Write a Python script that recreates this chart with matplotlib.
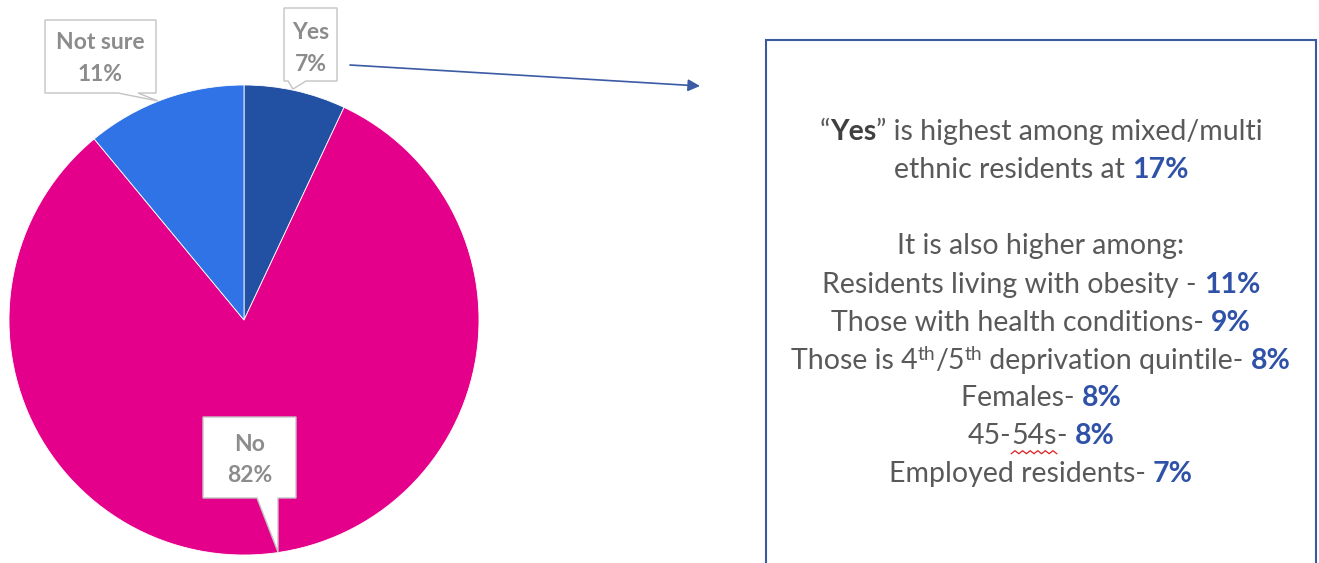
import re
import matplotlib
matplotlib.use("Agg")
import matplotlib.pyplot as plt
from matplotlib.patches import Polygon, Rectangle

W, H = 1319, 563
FONT = ["Lato", "DejaVu Sans"]

# survey answers
categories = ["Yes", "No", "Not sure"]
shares = [7, 82, 11]
pie_colors = ["#2251a3", "#e5008b", "#2f73e6"]

# subgroups where "Yes" runs higher
top_group = "mixed/multi"
top_value = 17
groups = ["Residents living with obesity -",
          "Those with health conditions-",
          "Those is 4^th/5^th deprivation quintile-",
          "Females-",
          "45-54s-",
          "Employed residents-"]
group_values = [11, 9, 8, 8, 8, 7]

GREY = "#595959"
BLUE = "#2f52a8"
LABEL_GREY = "#8c8c8c"

fig = plt.figure(figsize=(W / 100, H / 100), dpi=100)
ax = fig.add_axes([0, 0, 1, 1])


def py(y):
    # pixel rows counted from the top
    return H - y


ax.pie(shares, colors=pie_colors, startangle=90, counterclock=False,
       center=(244, py(320)), radius=235, frame=True,
       wedgeprops=dict(edgecolor="white", linewidth=0.6))
ax.set_xlim(0, W)
ax.set_ylim(0, H)
ax.axis("off")

# callout boxes: box corners, pointer base and tip, text baselines
callouts = {
    "Yes": dict(box=(284, 8, 337, 81), base=(288, 306), tip=(293, 89), lines=(39, 71)),
    "No": dict(box=(203, 417, 296, 498), base=(257, 278), tip=(278, 552), lines=(451, 482)),
    "Not sure": dict(box=(45, 20, 156, 93), base=(118, 138), tip=(158, 101), lines=(49, 81)),
}
for cat, share in zip(categories, shares):
    c = callouts[cat]
    x0, y0, x1, y1 = c["box"]
    b0, b1 = c["base"]
    pts = [(x0, y0), (x1, y0), (x1, y1), (b1, y1), c["tip"], (b0, y1), (x0, y1)]
    ax.add_patch(Polygon([(x, py(y)) for x, y in pts], closed=True,
                         facecolor="white", edgecolor="#c4c4c4", lw=1.0, zorder=5))
    xc = (x0 + x1) / 2
    for txt, yb in zip([cat, f"{share}%"], c["lines"]):
        ax.text(xc, py(yb), txt, ha="center", va="baseline", fontsize=16.5,
                fontweight="bold", color=LABEL_GREY, family=FONT, zorder=6)

# arrow from the Yes label to the text panel
ax.annotate("", xy=(700, py(86)), xytext=(350, py(65)),
            arrowprops=dict(arrowstyle="-|>", color="#3b5ba5", lw=1.2,
                            mutation_scale=18, shrinkA=0, shrinkB=0))

ax.add_patch(Rectangle((766, -10), 550, py(40) + 10, facecolor="white",
                       edgecolor="#3a5aa0", lw=1.5))

renderer = fig.canvas.get_renderer()


def text_width(s, size, weight):
    t = ax.text(0, 0, "|" + s + "|", fontsize=size, fontweight=weight, family=FONT)
    u = ax.text(0, 0, "||", fontsize=size, fontweight=weight, family=FONT)
    w = t.get_window_extent(renderer).width - u.get_window_extent(renderer).width
    t.remove()
    u.remove()
    return w


def rich_line(xc, yb, parts, size=20.5):
    # parts: (text, bold, colour, superscript)
    placed = []
    total = 0
    for txt, bold, color, sup in parts:
        fs = size * 0.68 if sup else size
        weight = "bold" if bold else "normal"
        w = text_width(txt, fs, weight)
        placed.append((txt, fs, weight, color, sup, w))
        total += w
    x = xc - total / 2
    out = []
    for txt, fs, weight, color, sup, w in placed:
        y = py(yb) + (size * 0.42 if sup else 0)
        t = ax.text(x, y, txt, fontsize=fs, fontweight=weight, color=color,
                    family=FONT, ha="left", va="baseline")
        out.append((t, x, w))
        x += w
    return out


def split_group(label):
    parts = []
    for piece in re.split(r"(\^\w+)", label):
        if not piece:
            continue
        if piece.startswith("^"):
            parts.append((piece[1:], False, GREY, True))
        else:
            parts.append((piece, False, GREY, False))
    return parts


XC = 1041
rich_line(XC, 140, [("\u201c", False, GREY, False), ("Yes", True, "#404040", False),
                    ("\u201d is highest among " + top_group, False, GREY, False)])
rich_line(XC, 178, [("ethnic residents at ", False, GREY, False),
                    (f"{top_value}%", True, BLUE, False)])
rich_line(XC, 254, [("It is also higher among:", False, GREY, False)])

for i, (g, v) in enumerate(zip(groups, group_values)):
    yb = 293 + i * 37.8
    parts = split_group(g)
    parts[-1] = (parts[-1][0] + " ",) + parts[-1][1:]
    parts.append((f"{v}%", True, BLUE, False))
    if g.startswith("45-54s"):
        parts = [("45-", False, GREY, False), ("54s", False, GREY, False),
                 ("- ", False, GREY, False), (f"{v}%", True, BLUE, False)]
    placed = rich_line(XC, yb, parts)
    if g.startswith("45-54s"):
        # spell-check squiggle under "54s"
        _, x0, w = placed[1]
        n = 12
        xs = [x0 + w * k / n for k in range(n + 1)]
        ys = [py(yb + 8) + (1.5 if k % 2 else -1.5) for k in range(n + 1)]
        ax.plot(xs, ys, color="#e02020", lw=0.9)

fig.savefig("out.png", dpi=100)
